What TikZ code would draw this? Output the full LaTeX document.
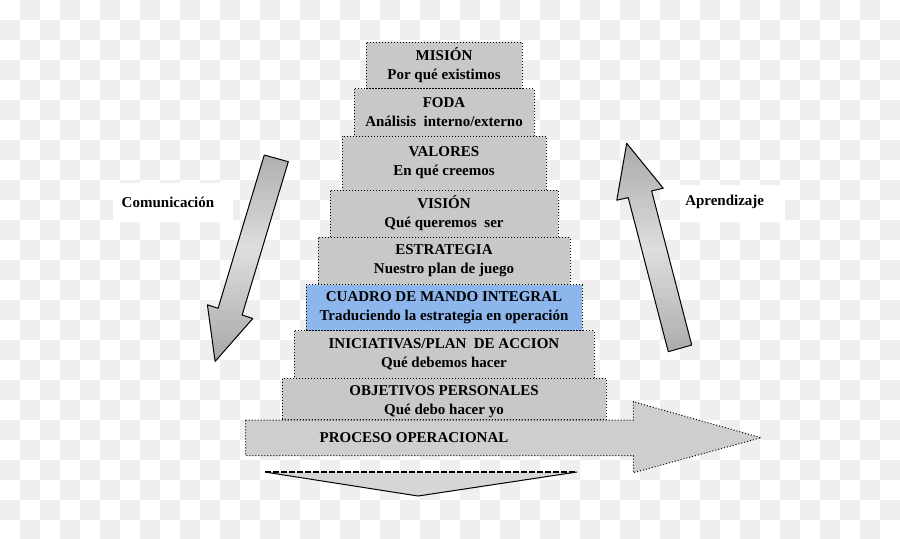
\documentclass[tikz,border=0pt]{standalone}
\usepackage{fontspec}
\setmainfont{Liberation Serif}
\definecolor{boxgray}{RGB}{200,200,200}
\definecolor{bluebox}{RGB}{140,182,236}
\definecolor{checker}{RGB}{239,239,239}
\definecolor{arrdark}{RGB}{168,168,168}
\definecolor{arrlight}{RGB}{222,222,222}
\definecolor{procgray}{RGB}{206,206,206}
\definecolor{trigray}{RGB}{214,214,214}
\begin{document}
\begin{tikzpicture}[x=0.5pt,y=-0.5pt,
  txt/.style={font=\fontsize{7.5}{9.5}\selectfont\bfseries, align=center, inner sep=0pt},
  pbox/.style={txt, draw=black, densely dotted, line width=0.5pt, fill=boxgray},
  bigarrow/.style={draw=black, line width=0.5pt, line join=round},
  lbl/.style={txt}]
\useasboundingbox (0,0) rectangle (900,538);
\clip (0,0) rectangle (900,538);
% checkerboard background
\fill[white] (0,0) rectangle (900,538);
\foreach \i [evaluate=\i as \s using {int(mod(\i+1,2))}, evaluate=\i as \t using {int(mod(\i+1,2)+2)}] in {0,...,44} {
  \foreach \j in {\s,\t,...,26} {
    \fill[checker] (\i*20,\j*20) rectangle ++(20,20);
  }
}
% pyramid
\node[pbox, minimum width=78pt, minimum height=23.35pt] (mision) at (444,65.35) {MISIÓN\\Por qué existimos};
\node[pbox, minimum width=90pt, minimum height=23.65pt] (foda) at (444,112.35) {FODA\\Análisis\enspace interno/externo};
\node[pbox, minimum width=102pt, minimum height=27pt] (valores) at (444,163) {VALORES\\En qué creemos};
\node[pbox, minimum width=114pt, minimum height=23.65pt] (vision) at (444,213.65) {VISIÓN\\Qué queremos\enspace ser};
\node[pbox, minimum width=126pt, minimum height=23.7pt] (estrategia) at (444,261) {ESTRATEGIA\\Nuestro plan de juego};
\node[pbox, fill=bluebox, minimum width=138pt, minimum height=23pt] (cmi) at (444,307.7) {CUADRO DE MANDO INTEGRAL\\Traduciendo la estrategia en operación};
\node[pbox, minimum width=150pt, minimum height=23.65pt] (iniciativas) at (444,354.35) {INICIATIVAS/PLAN\enspace DE ACCION\\Qué debemos hacer};
\node[pbox, minimum width=162pt, minimum height=20.75pt] (objetivos) at (444,398.75) {};
\node[txt] (objtxt) at (444,402) {OBJETIVOS PERSONALES\\Qué debo hacer yo};
% process arrow
\filldraw[fill=procgray, draw=black, densely dotted, line width=0.5pt]
  (245.7,420) -- (633.3,420) -- (633.3,401.7) -- (761,437.7) -- (633.3,472.7) -- (633.3,455.7) -- (245.7,455.7) -- cycle;
\node[txt] (proceso) at (414,438) {PROCESO OPERACIONAL};
% down triangle
\fill[trigray] (265,472) -- (577,472) -- (418,496) -- cycle;
\draw[line width=0.5pt] (268,472.5) -- (418,496) -- (577,472);
\draw[line width=0.6pt, dashed, dash pattern=on 3pt off 1pt] (265,472) -- (577,472);
% communication arrow (down)
\begin{scope}
  \clip (264.3,155) -- (288.3,161.7) -- (242.1,315.0) -- (252.8,318.5) -- (215.1,361.4) -- (207.4,304.8) -- (218.1,308.3) -- cycle;
  \foreach \k in {0,...,44} {
    \pgfmathsetmacro\yy{150+\k*5}
    \pgfmathsetmacro\pp{max(0,100-abs(\yy+2.5-250)/1.1)}
    \fill[arrlight!\pp!arrdark] (200,\yy) rectangle (300,\yy+5.6);
  }
\end{scope}
\draw[bigarrow]
  (264.3,155) -- (288.3,161.7) -- (242.1,315.0) -- (252.8,318.5) -- (215.1,361.4) -- (207.4,304.8) -- (218.1,308.3) -- cycle;
% learning arrow (up)
\begin{scope}
  \clip (668.3,351.7) -- (628.2,197.6) -- (616.8,200.2) -- (626.7,143.3) -- (663.2,188.2) -- (651.6,190.9) -- (691.7,345) -- cycle;
  \foreach \k in {0,...,44} {
    \pgfmathsetmacro\yy{138+\k*5}
    \pgfmathsetmacro\pp{max(0,100-abs(\yy+2.5-250)/1.1)}
    \fill[arrlight!\pp!arrdark] (600,\yy) rectangle (700,\yy+5.6);
  }
\end{scope}
\draw[bigarrow]
  (668.3,351.7) -- (628.2,197.6) -- (616.8,200.2) -- (626.7,143.3) -- (663.2,188.2) -- (651.6,190.9) -- (691.7,345) -- cycle;
% labels
\fill[white] (113,183) rectangle (233,221.5);
\node[lbl] (comunicacion) at (168,202) {Comunicación};
\fill[white] (680,185) rectangle (785,221.7);
\node[lbl] (aprendizaje) at (724.7,202) {Aprendizaje};
\end{tikzpicture}
\end{document}
